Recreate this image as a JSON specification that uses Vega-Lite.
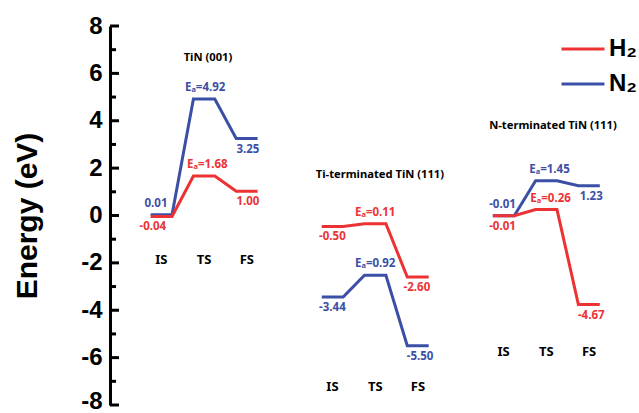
{
  "$schema": "https://vega.github.io/schema/vega-lite/v6.json",
  "autosize": {"type": "none"},
  "width": 524,
  "height": 379,
  "padding": {"left": 110, "top": 26, "right": 5, "bottom": 8},
  "background": "white",
  "config": {"view": {"stroke": null}},
  "datasets": {
    "levels": [
      {"line": "p1N", "gas": "N₂", "x": 0, "E": 0.03},
      {"line": "p1N", "gas": "N₂", "x": 1, "E": 0.03},
      {"line": "p1N", "gas": "N₂", "x": 2, "E": 4.92},
      {"line": "p1N", "gas": "N₂", "x": 3, "E": 4.92},
      {"line": "p1N", "gas": "N₂", "x": 4, "E": 3.25},
      {"line": "p1N", "gas": "N₂", "x": 5, "E": 3.25},
      {"line": "p2N", "gas": "N₂", "x": 8, "E": -3.44},
      {"line": "p2N", "gas": "N₂", "x": 9, "E": -3.44},
      {"line": "p2N", "gas": "N₂", "x": 10, "E": -2.52},
      {"line": "p2N", "gas": "N₂", "x": 11, "E": -2.52},
      {"line": "p2N", "gas": "N₂", "x": 12, "E": -5.5},
      {"line": "p2N", "gas": "N₂", "x": 13, "E": -5.5},
      {"line": "p3N", "gas": "N₂", "x": 16, "E": -0.01},
      {"line": "p3N", "gas": "N₂", "x": 17, "E": -0.01},
      {"line": "p3N", "gas": "N₂", "x": 18, "E": 1.47},
      {"line": "p3N", "gas": "N₂", "x": 19, "E": 1.47},
      {"line": "p3N", "gas": "N₂", "x": 20, "E": 1.26},
      {"line": "p3N", "gas": "N₂", "x": 21, "E": 1.26},
      {"line": "p1H", "gas": "H₂", "x": 0, "E": -0.04},
      {"line": "p1H", "gas": "H₂", "x": 1, "E": -0.04},
      {"line": "p1H", "gas": "H₂", "x": 2, "E": 1.67},
      {"line": "p1H", "gas": "H₂", "x": 3, "E": 1.67},
      {"line": "p1H", "gas": "H₂", "x": 4, "E": 1.02},
      {"line": "p1H", "gas": "H₂", "x": 5, "E": 1.02},
      {"line": "p2H", "gas": "H₂", "x": 8, "E": -0.46},
      {"line": "p2H", "gas": "H₂", "x": 9, "E": -0.46},
      {"line": "p2H", "gas": "H₂", "x": 10, "E": -0.35},
      {"line": "p2H", "gas": "H₂", "x": 11, "E": -0.35},
      {"line": "p2H", "gas": "H₂", "x": 12, "E": -2.6},
      {"line": "p2H", "gas": "H₂", "x": 13, "E": -2.6},
      {"line": "p3H", "gas": "H₂", "x": 16, "E": -0.01},
      {"line": "p3H", "gas": "H₂", "x": 17, "E": -0.01},
      {"line": "p3H", "gas": "H₂", "x": 18, "E": 0.25},
      {"line": "p3H", "gas": "H₂", "x": 19, "E": 0.25},
      {"line": "p3H", "gas": "H₂", "x": 20, "E": -3.76},
      {"line": "p3H", "gas": "H₂", "x": 21, "E": -3.76}
    ],
    "values": [
      {"gas": "N₂", "pos": "above", "x": 0.25, "E": 0.03, "text": "0.01"},
      {"gas": "H₂", "pos": "below", "x": 0.1, "E": -0.04, "text": "-0.04"},
      {"gas": "N₂", "pos": "above", "x": 2.55, "E": 4.92, "text": "Eₐ=4.92"},
      {"gas": "N₂", "pos": "below", "x": 4.55, "E": 3.25, "text": "3.25"},
      {"gas": "H₂", "pos": "above", "x": 2.65, "E": 1.67, "text": "Eₐ=1.68"},
      {"gas": "H₂", "pos": "below", "x": 4.55, "E": 1.02, "text": "1.00"},
      {"gas": "H₂", "pos": "below", "x": 8.5, "E": -0.46, "text": "-0.50"},
      {"gas": "H₂", "pos": "above", "x": 10.5, "E": -0.35, "text": "Eₐ=0.11"},
      {"gas": "H₂", "pos": "below", "x": 12.45, "E": -2.6, "text": "-2.60"},
      {"gas": "N₂", "pos": "above", "x": 10.5, "E": -2.52, "text": "Eₐ=0.92"},
      {"gas": "N₂", "pos": "below", "x": 8.5, "E": -3.44, "text": "-3.44"},
      {"gas": "N₂", "pos": "below", "x": 12.6, "E": -5.5, "text": "-5.50"},
      {"gas": "N₂", "pos": "above", "x": 18.65, "E": 1.47, "text": "Eₐ=1.45"},
      {"gas": "N₂", "pos": "above", "x": 16.45, "E": -0.01, "text": "-0.01"},
      {"gas": "H₂", "pos": "above", "x": 18.7, "E": 0.25, "text": "Eₐ=0.26"},
      {"gas": "N₂", "pos": "below", "x": 20.6, "E": 1.26, "text": "1.23"},
      {"gas": "H₂", "pos": "below", "x": 16.45, "E": -0.01, "text": "-0.01"},
      {"gas": "H₂", "pos": "below", "x": 20.6, "E": -3.76, "text": "-4.67"}
    ],
    "titles": [
      {"x": 2.68, "E": 6.67, "text": "TiN (001)"},
      {"x": 10.72, "E": 1.69, "text": "Ti-terminated TiN (111)"},
      {"x": 18.81, "E": 3.76, "text": "N-terminated TiN (111)"}
    ],
    "states": [
      {"x": 0.5, "E": -1.86, "text": "IS"},
      {"x": 2.5, "E": -1.86, "text": "TS"},
      {"x": 4.5, "E": -1.86, "text": "FS"},
      {"x": 8.5, "E": -7.26, "text": "IS"},
      {"x": 10.5, "E": -7.26, "text": "TS"},
      {"x": 12.5, "E": -7.26, "text": "FS"},
      {"x": 16.5, "E": -5.78, "text": "IS"},
      {"x": 18.5, "E": -5.78, "text": "TS"},
      {"x": 20.5, "E": -5.78, "text": "FS"}
    ],
    "ticks": [
      {"E": -8, "kind": "major"}, {"E": -7, "kind": "minor"}, {"E": -6, "kind": "major"},
      {"E": -5, "kind": "minor"}, {"E": -4, "kind": "major"}, {"E": -3, "kind": "minor"},
      {"E": -2, "kind": "major"}, {"E": -1, "kind": "minor"}, {"E": 0, "kind": "major"},
      {"E": 1, "kind": "minor"}, {"E": 2, "kind": "major"}, {"E": 3, "kind": "minor"},
      {"E": 4, "kind": "major"}, {"E": 5, "kind": "minor"}, {"E": 6, "kind": "major"},
      {"E": 7, "kind": "minor"}, {"E": 8, "kind": "major"}
    ]
  },
  "layer": [
    {
      "data": {"name": "levels"},
      "mark": {"type": "line", "strokeWidth": 3, "strokeJoin": "miter", "clip": false},
      "encoding": {
        "x": {"field": "x", "type": "quantitative", "scale": {"domain": [-1.9, 22.6], "nice": false, "zero": false}, "axis": null},
        "y": {
          "field": "E", "type": "quantitative",
          "scale": {"domain": [-8, 8], "nice": false, "zero": false},
          "axis": {
            "title": "Energy (eV)",
            "values": [-8, -6, -4, -2, 0, 2, 4, 6, 8],
            "labelExpr": "'' + datum.value",
            "labelOffset": {"condition": {"test": "datum.value == -8", "value": -4}, "value": 0},
            "grid": false,
            "ticks": false,
            "domainColor": "black",
            "domainWidth": 3,
            "labelFont": "Liberation Sans",
            "labelFontWeight": "bold",
            "labelFontSize": 24,
            "labelColor": "black",
            "labelPadding": 8,
            "titleFont": "Liberation Sans",
            "titleFontWeight": "bold",
            "titleFontSize": 30,
            "titleColor": "black",
            "titlePadding": 38
          }
        },
        "color": {
          "field": "gas", "type": "nominal",
          "scale": {"domain": ["H₂", "N₂"], "range": ["#ec3233", "#3b4fa6"]},
          "legend": {
            "title": null,
            "orient": "none",
            "legendX": 450,
            "legendY": 0,
            "padding": 0,
            "symbolType": "stroke",
            "symbolSize": 1849,
            "symbolStrokeWidth": 3,
            "labelFont": "Liberation Sans",
            "labelFontWeight": "bold",
            "labelFontSize": 24,
            "labelColor": "black",
            "labelOffset": 3,
            "rowPadding": -4
          }
        },
        "detail": {"field": "line"},
        "order": {"field": "x", "type": "quantitative"}
      }
    },
    {
      "data": {"name": "ticks"},
      "transform": [{"filter": "datum.kind == 'major'"}],
      "mark": {"type": "rule", "strokeWidth": 3, "color": "black", "clip": false},
      "encoding": {
        "y": {"field": "E", "type": "quantitative"},
        "x": {"datum": -1.9, "type": "quantitative"},
        "x2": {"datum": -1.48}
      }
    },
    {
      "data": {"name": "ticks"},
      "transform": [{"filter": "datum.kind == 'minor'"}],
      "mark": {"type": "rule", "strokeWidth": 3, "color": "black", "clip": false},
      "encoding": {
        "y": {"field": "E", "type": "quantitative"},
        "x": {"datum": -1.9, "type": "quantitative"},
        "x2": {"datum": -1.62}
      }
    },
    {
      "data": {"name": "values"},
      "transform": [{"filter": "datum.pos == 'above'"}],
      "mark": {"type": "text", "dy": -11, "font": "Noto Sans", "fontWeight": "bold", "fontSize": 11.5, "baseline": "middle"},
      "encoding": {
        "x": {"field": "x", "type": "quantitative"},
        "y": {"field": "E", "type": "quantitative"},
        "text": {"field": "text"},
        "color": {"field": "gas", "type": "nominal", "legend": null}
      }
    },
    {
      "data": {"name": "values"},
      "transform": [{"filter": "datum.pos == 'below'"}],
      "mark": {"type": "text", "dy": 11, "font": "Noto Sans", "fontWeight": "bold", "fontSize": 11.5, "baseline": "middle"},
      "encoding": {
        "x": {"field": "x", "type": "quantitative"},
        "y": {"field": "E", "type": "quantitative"},
        "text": {"field": "text"},
        "color": {"field": "gas", "type": "nominal", "legend": null}
      }
    },
    {
      "data": {"name": "titles"},
      "mark": {"type": "text", "font": "Noto Sans", "fontWeight": "bold", "fontSize": 11.2, "baseline": "middle", "color": "black"},
      "encoding": {
        "x": {"field": "x", "type": "quantitative"},
        "y": {"field": "E", "type": "quantitative"},
        "text": {"field": "text"}
      }
    },
    {
      "data": {"name": "states"},
      "mark": {"type": "text", "font": "Noto Sans", "fontWeight": "bold", "fontSize": 13, "baseline": "middle", "color": "black"},
      "encoding": {
        "x": {"field": "x", "type": "quantitative"},
        "y": {"field": "E", "type": "quantitative"},
        "text": {"field": "text"}
      }
    }
  ]
}
